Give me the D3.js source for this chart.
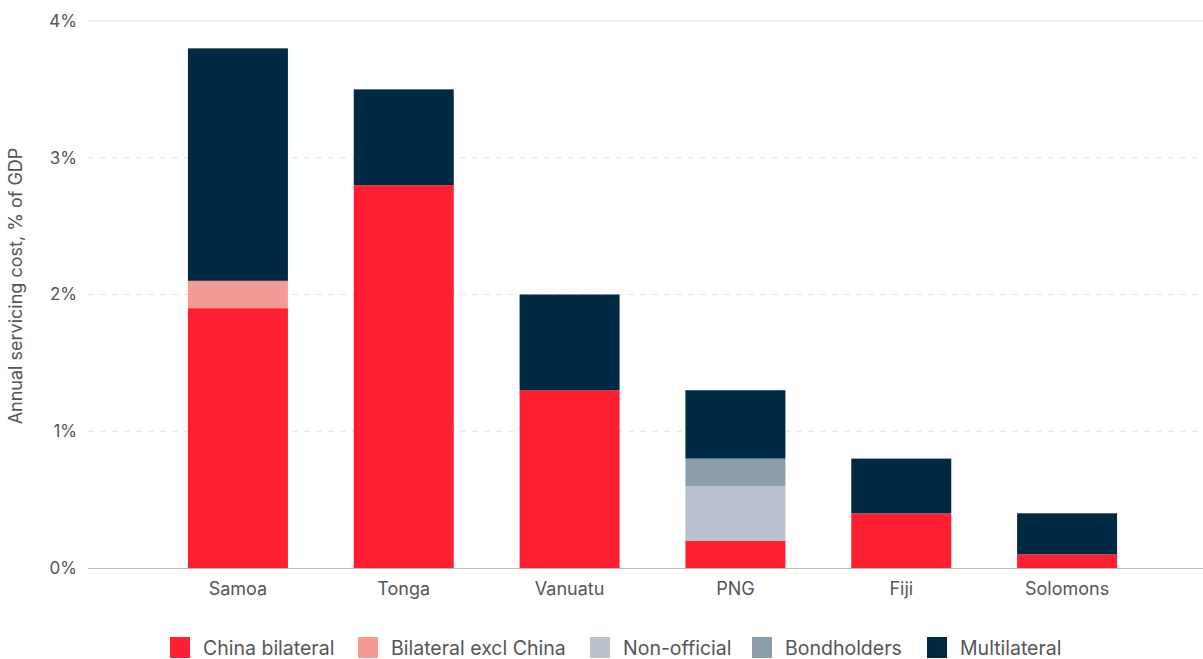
<!DOCTYPE html>
<html><head><meta charset="utf-8">
<script src="https://cdn.jsdelivr.net/npm/d3@7"></script>
<style>body{margin:0;background:#fff;}svg{display:block;font-family:Inter,"Noto Sans",sans-serif;}</style>
</head><body><svg id="c" width="1203" height="659"></svg>
<script>
const categories = ["Samoa","Tonga","Vanuatu","PNG","Fiji","Solomons"];
const seriesNames = ["China bilateral","Bilateral excl China","Non-official","Bondholders","Multilateral"];
const chinaBilateral   = [1.9, 2.8, 1.3, 0.2, 0.4, 0.1];
const bilateralExChina = [0.2, 0,   0,   0,   0,   0];
const nonOfficial      = [0,   0,   0,   0.4, 0,   0];
const bondholders      = [0,   0,   0,   0.2, 0,   0];
const multilateral     = [1.7, 0.7, 0.7, 0.5, 0.4, 0.3];
const yTicks = [0,1,2,3,4];
const colors = ["#ff1f30","#f59a95","#b7c2cd","#8a9dab","#002a44"];

const seriesValues = [chinaBilateral, bilateralExChina, nonOfficial, bondholders, multilateral];
const rows = categories.map((c,i)=>{const r={cat:c}; seriesNames.forEach((s,j)=>r[s]=seriesValues[j][i]); return r;});
const stacked = d3.stack().keys(seriesNames)(rows);

const svg = d3.select("#c");
const x = d3.scaleBand().domain(categories).range([155,1150]).paddingInner(0.397).paddingOuter(0.1985);
const y = d3.scaleLinear().domain([0,4]).range([568,21]);

// gridlines
svg.append("g").selectAll("line").data(yTicks.filter(t=>t>0)).join("line")
  .attr("x1",88).attr("x2",1203).attr("y1",d=>y(d)).attr("y2",d=>y(d))
  .attr("stroke","#e3e3e3").attr("stroke-width",1)
  .attr("stroke-dasharray",d=>d===4?null:"6,6");

// y tick labels
svg.append("g").selectAll("text").data(yTicks).join("text")
  .attr("x",77).attr("y",d=>y(d)).attr("dy","0.35em").attr("text-anchor","end")
  .attr("font-size",17).attr("fill","#555").text(d=>d+"%");

// bars
svg.append("g").selectAll("g").data(stacked).join("g").attr("fill",(d,i)=>colors[i])
  .selectAll("rect").data(d=>d.filter(p=>p[1]-p[0]>0)).join("rect")
  .attr("x",d=>x(d.data.cat)).attr("width",x.bandwidth())
  .attr("y",d=>y(d[1])).attr("height",d=>y(d[0])-y(d[1]));

// baseline
svg.append("line").attr("x1",88).attr("x2",1203).attr("y1",y(0)+0.5).attr("y2",y(0)+0.5)
  .attr("stroke","#bdbdbd").attr("stroke-width",1);

// x labels
svg.append("g").selectAll("text").data(categories).join("text")
  .attr("x",d=>x(d)+x.bandwidth()/2).attr("y",595).attr("text-anchor","middle")
  .attr("font-size",18).attr("fill","#555").text(d=>d);

// y axis title
svg.append("text").attr("transform","translate(22,286) rotate(-90)").attr("text-anchor","middle")
  .attr("font-size",18).attr("fill","#555").text("Annual servicing cost, % of GDP");

// legend
const legX = [170,358,590,752,927];
const leg = svg.append("g").selectAll("g").data(seriesNames).join("g")
  .attr("transform",(d,i)=>`translate(${legX[i]},637)`);
leg.append("rect").attr("width",20).attr("height",21).attr("fill",(d,i)=>colors[i]);
leg.append("text").attr("x",33).attr("y",11).attr("dy","0.35em").attr("font-size",19.5).attr("fill","#555").text(d=>d);
</script></body></html>
